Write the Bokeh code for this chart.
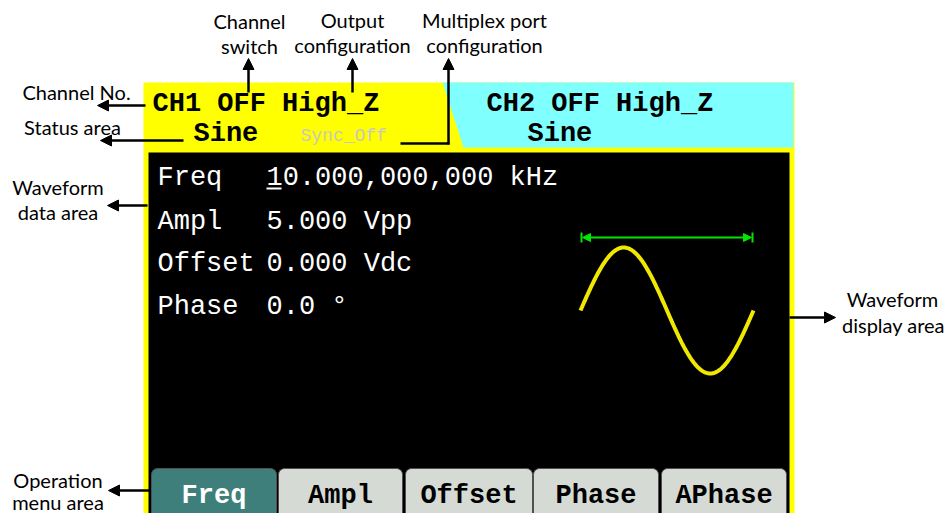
import numpy as np
from bokeh.plotting import figure
from bokeh.models import Range1d, ColumnDataSource, Arrow, NormalHead
from bokeh.core.properties import value
from bokeh.embed import file_html
from bokeh.resources import INLINE

# ---------------- data (texts) ----------------
HEADER_CH1 = "CH1 OFF High_Z"
HEADER_CH2 = "CH2 OFF High_Z"
WAVE_NAME = "Sine"
SYNC_TEXT = "Sync_Off"
PARAM_LABELS = ["Freq", "Ampl", "Offset", "Phase"]
PARAM_VALUES = ["10.000,000,000 kHz", "5.000 Vpp", "0.000 Vdc", "0.0 °"]
MENU_LABELS = ["Freq", "Ampl", "Offset", "Phase", "APhase"]
MENU_ACTIVE = [True, False, False, False, False]

# annotation callouts
TOP_NOTES = [["Channel", "switch"], ["Output", "configuration"], ["Multiplex port", "configuration"]]
LEFT_NOTES = [["Channel No."], ["Status area"], ["Waveform", "data area"], ["Operation", "menu area"]]
RIGHT_NOTES = [["Waveform", "display area"]]

# ---------------- layout (pixel coordinates of the drawing) ----------------
FRAME = dict(left=143, right=794, top=82, bottom=513)
SCREEN = dict(left=148, right=789, top=152, bottom=513)
CYAN_X = [442, 793, 793, 463]
CYAN_Y = [82, 82, 147, 147]

DY = -8.5  # baseline correction for svg text
PARAM_Y = [186 + DY, 230 + DY, 272 + DY, 315 + DY]
MENU_LEFT = [151, 278, 405, 533, 661]
MENU_RIGHT = [276, 402, 532, 658, 786]
MENU_TOP = 468
MENU_BOTTOM = 514

WAVE_X0, WAVE_X1, WAVE_MID, WAVE_AMP = 580, 753, 310, 63

W, H = 947, 513
p = figure(width=W, height=H, x_range=Range1d(0, W), y_range=Range1d(H, 0),
           output_backend="svg", toolbar_location=None, min_border=0)
p.axis.visible = False
p.grid.visible = False
p.outline_line_color = None
p.background_fill_color = "white"
p.border_fill_color = "white"

MONO = value("Liberation Mono")
SANS = value("Lato")

# screen frame
p.quad(left=[FRAME["left"]], right=[FRAME["right"]], top=[FRAME["top"]], bottom=[FRAME["bottom"] + 1],
       fill_color="#ffff00", line_color=None)
p.patch(CYAN_X, CYAN_Y, fill_color="#80ffff", line_color=None)
p.quad(left=[SCREEN["left"]], right=[SCREEN["right"]], top=[SCREEN["top"]], bottom=[SCREEN["bottom"] + 1],
       fill_color="black", line_color=None)

# header
p.text(x=[152, 486], y=[111.5 + DY] * 2, text=[HEADER_CH1, HEADER_CH2], text_font=MONO,
       text_font_style="bold", text_font_size="27px", text_color="black", text_baseline="alphabetic")
p.text(x=[193, 527], y=[141.5 + DY] * 2, text=[WAVE_NAME, WAVE_NAME], text_font=MONO,
       text_font_style="bold", text_font_size="27px", text_color="black", text_baseline="alphabetic")
p.text(x=[300], y=[141.5 + DY + 2], text=[SYNC_TEXT], text_font=MONO, text_font_size="18px",
       text_color="#c8c8c0", text_baseline="alphabetic")

# parameters
p.text(x=[157] * 4, y=PARAM_Y, text=PARAM_LABELS, text_font=MONO,
       text_font_size="27px", text_color="white", text_baseline="alphabetic")
p.text(x=[266] * 4, y=PARAM_Y, text=PARAM_VALUES, text_font=MONO,
       text_font_size="27px", text_color="white", text_baseline="alphabetic")
p.segment(x0=[266], y0=[188], x1=[281], y1=[188], line_color="white", line_width=2)

# waveform display
xs = np.linspace(WAVE_X0, WAVE_X1, 200)
ys = WAVE_MID - WAVE_AMP * np.sin(2 * np.pi * (xs - WAVE_X0) / (WAVE_X1 - WAVE_X0))
p.line(xs, ys, line_color="#f0e800", line_width=4)
GREEN = "#00e600"
p.segment(x0=[WAVE_X0 + 1, WAVE_X1 - 1], y0=[232, 232], x1=[WAVE_X0 + 1, WAVE_X1 - 1], y1=[242, 242],
          line_color=GREEN, line_width=2)
p.add_layout(Arrow(x_start=(WAVE_X0 + WAVE_X1) / 2, y_start=237, x_end=WAVE_X0 + 2, y_end=237,
                   line_color=GREEN, line_width=2,
                   end=NormalHead(size=8, fill_color=GREEN, line_color=GREEN)))
p.add_layout(Arrow(x_start=(WAVE_X0 + WAVE_X1) / 2, y_start=237, x_end=WAVE_X1 - 2, y_end=237,
                   line_color=GREEN, line_width=2,
                   end=NormalHead(size=8, fill_color=GREEN, line_color=GREEN)))

# menu
fills = ["#3f7f7b" if a else "#d5dad5" for a in MENU_ACTIVE]
tcols = ["white" if a else "black" for a in MENU_ACTIVE]
menu_src = ColumnDataSource(dict(left=MENU_LEFT, right=MENU_RIGHT, top=[MENU_TOP] * 5,
                                 bottom=[MENU_BOTTOM] * 5, fill=fills, tc=tcols, label=MENU_LABELS,
                                 cx=[(a + b) / 2 for a, b in zip(MENU_LEFT, MENU_RIGHT)],
                                 ty=[504 + DY] * 5))
p.quad(left="left", right="right", top="top", bottom="bottom", fill_color="fill",
       line_color="#505050", line_width=1, border_radius=dict(top_left=6, top_right=6, bottom_right=0, bottom_left=0),
       source=menu_src)
p.text(x="cx", y="ty", text="label", text_color="tc", text_font=MONO, text_font_style="bold",
       text_font_size="27px", text_align="center", text_baseline="alphabetic", source=menu_src)

# annotation texts
top_x = [249, 352, 484]
top_y = [[29, 54], [28, 53], [28, 53]]
for lines, x, yy in zip(TOP_NOTES, top_x, top_y):
    p.text(x=[x] * len(lines), y=[v + DY for v in yy], text=lines, text_font=SANS, text_font_size="20px",
           text_color="black", text_align="center", text_baseline="alphabetic")
left_x = [76, 72, 57.5, 57.5]
left_y = [[100], [135], [195, 220], [488, 510]]
for lines, x, yy in zip(LEFT_NOTES, left_x, left_y):
    p.text(x=[x] * len(lines), y=[v + DY for v in yy], text=lines, text_font=SANS, text_font_size="20px",
           text_color="black", text_align="center", text_baseline="alphabetic")
for lines in RIGHT_NOTES:
    p.text(x=[892, 893], y=[306.5 + DY, 333 + DY], text=lines, text_font=SANS, text_font_size="20px",
           text_color="black", text_align="center", text_baseline="alphabetic")

# black arrows
ARROWS = [(248, 92, 248, 58), (352, 92, 352, 58), (448, 144, 448, 58),
          (145, 105, 97, 105), (183, 140, 100, 140), (147, 205, 107, 205),
          (789, 317, 835, 317), (150, 490, 108, 490)]
for x0, y0, x1, y1 in ARROWS:
    p.add_layout(Arrow(x_start=x0, y_start=y0, x_end=x1, y_end=y1, line_color="black", line_width=2.5,
                       end=NormalHead(size=11, fill_color="black", line_color="black")))
p.line([400, 449], [143, 143], line_color="black", line_width=2.5)

open("out.html", "w").write(file_html(p, INLINE))
